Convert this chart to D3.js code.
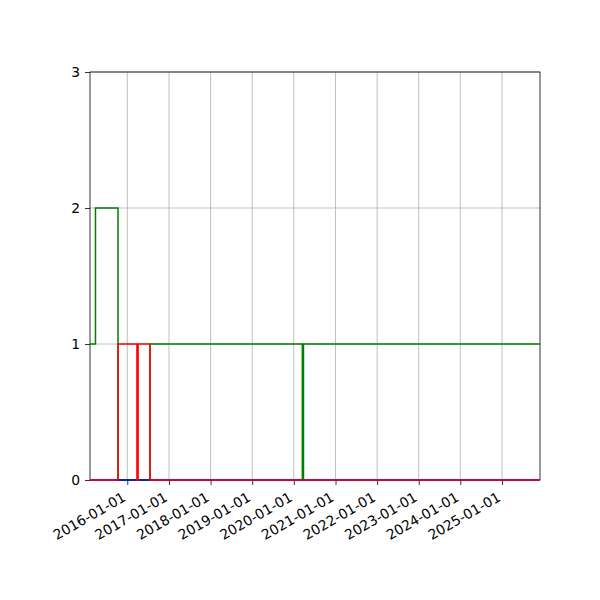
<!DOCTYPE html>
<html>
<head>
<meta charset="utf-8">
<script src="https://cdn.jsdelivr.net/npm/d3@7"></script>
<style>
  body{margin:0;background:#fff;}
  text{font-family:"DejaVu Sans",sans-serif;fill:#000;}
</style>
</head>
<body>
<div id="chart"></div>
<script>
//data - step changes (value holds until next date)
var greenDates=["2015-02-08","2015-03-28","2015-10-12","2016-07-18","2020-03-16","2020-03-26","2025-11-30"];
var greenValues=[1,2,0,1,0,1,1];
var blueDates=["2015-02-08","2025-11-30"];
var blueValues=[0,0];
var redDates=["2015-02-08","2015-10-12","2016-03-26","2016-04-05","2016-07-18","2025-11-30"];
var redValues=[0,1,0,1,0,0];
var yTicks=[0,1,2,3];
var xTicks=["2016-01-01","2017-01-01","2018-01-01","2019-01-01","2020-01-01","2021-01-01","2022-01-01","2023-01-01","2024-01-01","2025-01-01"];

var margin={top:72,right:60,bottom:120,left:90},
    width=600-margin.left-margin.right,
    height=600-margin.top-margin.bottom;

var parse=d3.timeParse("%Y-%m-%d");

var svg=d3.select("#chart").append("svg")
          .attr("width",600)
          .attr("height",600)
          .append("g")
          .attr("transform","translate("+margin.left+","+margin.top+")");

var xScale=d3.scaleTime().range([0,width]).domain([parse("2015-02-08"),parse("2025-11-30")]);
var yScale=d3.scaleLinear().range([height,0]).domain([0,3]);

//grid
svg.append("g").selectAll("line")
   .data(xTicks)
   .enter()
   .append("line")
   .attr("x1",function(d){return xScale(parse(d))})
   .attr("x2",function(d){return xScale(parse(d))})
   .attr("y1",0)
   .attr("y2",height)
   .style("stroke","#b0b0b0")
   .style("stroke-width",0.8);
svg.append("g").selectAll("line")
   .data(yTicks)
   .enter()
   .append("line")
   .attr("x1",0)
   .attr("x2",width)
   .attr("y1",function(d){return yScale(d)})
   .attr("y2",function(d){return yScale(d)})
   .style("stroke","#b0b0b0")
   .style("stroke-width",0.8);

//axes
var xAxis=svg.append("g")
   .attr("transform","translate(0,"+height+")")
   .call(d3.axisBottom(xScale).tickValues(xTicks.map(parse)).tickSize(5).tickFormat(d3.timeFormat("%Y-%m-%d")));
xAxis.selectAll("text")
   .style("text-anchor","end")
   .attr("x",0).attr("y",0).attr("dy",0)
   .attr("transform","translate(-1,20) rotate(-30)");
var yAxis=svg.append("g")
   .call(d3.axisLeft(yScale).tickValues(yTicks).tickSize(5).tickPadding(5).tickFormat(d3.format("d")));
svg.selectAll(".domain").remove();
svg.selectAll(".tick line").style("stroke","#000").style("stroke-width",0.8);
svg.selectAll(".tick text").style("font-size","13.9px").style("font-family","DejaVu Sans");

//frame
svg.append("rect")
   .attr("width",width)
   .attr("height",height)
   .style("fill","none")
   .style("stroke","#000")
   .style("stroke-width",0.8);

//step lines
var line=d3.line()
   .curve(d3.curveStepAfter)
   .x(function(d){return xScale(d.date)})
   .y(function(d){return yScale(d.value)});

function series(dates,values){
  return dates.map(function(d,i){return {date:parse(d),value:values[i]}});
}

var lines=[
  {data:series(greenDates,greenValues),color:"green"},
  {data:series(blueDates,blueValues),color:"blue"},
  {data:series(redDates,redValues),color:"red"}
];

svg.append("g").selectAll("path")
   .data(lines)
   .enter()
   .append("path")
   .attr("d",function(d){return line(d.data)})
   .style("fill","none")
   .style("stroke",function(d){return d.color})
   .style("stroke-width",1.5);
</script>
</body>
</html>
